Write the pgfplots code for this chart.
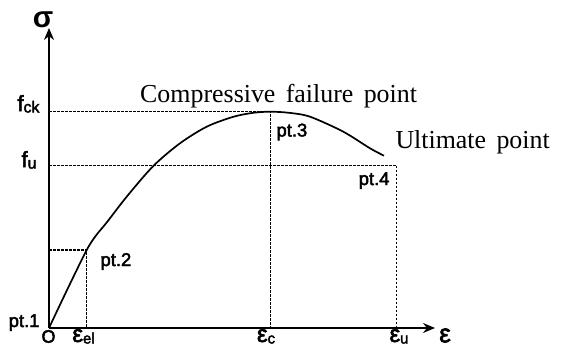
\documentclass[border=0pt]{standalone}
\usepackage{fontspec}
\setmainfont{Liberation Serif}
\newfontfamily\sans{Liberation Sans}
\newfontfamily\sansm{Liberation Sans}[FakeBold=2.5]
\usepackage{pgfplots}
\pgfplotsset{compat=1.18}
\usetikzlibrary{arrows.meta}

\pgfplotstableread{
x y
0 0
19 40
37.7 78
47 92.5
57.7 105.5
77.7 131.3
104.3 162
131 184.7
157.7 201.3
184.3 211.2
204.3 215.2
221.3 216.3
240 215.2
261 211.3
294.3 196.3
321 179.7
335 172.3
}\curvetable

\newcommand{\serifsize}{\fontsize{26}{30}\selectfont}
\newcommand{\ptsize}{\sansm\fontsize{18.5}{20}\selectfont}
\newcommand{\epsl}[1]{\sansm\fontsize{24}{26}\selectfont ε\raisebox{-1.5bp}{\fontsize{15}{17}\selectfont #1}}

\begin{document}
\begin{tikzpicture}
\begin{axis}[
  scale only axis, width=386bp, height=300bp,
  xmin=0, xmax=386, ymin=0, ymax=300,
  axis lines=left, ticks=none, clip=false,
  axis line style={line width=1.8bp, -{Stealth[length=12bp,width=10bp]}},
  dashline/.style={line width=1.1bp, dash pattern=on 2.5bp off 1.5bp},
  every node/.style={inner sep=0pt},
]
% guide lines
\addplot[dashline] coordinates {(0,216.3) (221.3,216.3) (221.3,0)};
\addplot[dashline] coordinates {(0,162.3) (347.7,162.3) (347.7,0)};
\addplot[dashline] coordinates {(0,78) (37.7,78) (37.7,0)};
% stress-strain curve
\addplot[line width=1.7bp, smooth, tension=0.5] table {\curvetable};

% axis symbols
\node at (axis cs:-6,308.5) {\sans\bfseries\fontsize{30}{32}\selectfont σ};
\node at (axis cs:396,-7.5) {\sansm\fontsize{26}{28}\selectfont ε};
\node at (axis cs:-0.5,-8.5) {\sansm\fontsize{18}{20}\selectfont O};

% y labels
\node[anchor=base east] at (axis cs:-6,217) {\sansm\fontsize{22}{24}\selectfont f\raisebox{-1.5bp}{\fontsize{16}{18}\selectfont ck}};
\node[anchor=base east] at (axis cs:-9,161) {\sansm\fontsize{22}{24}\selectfont f\raisebox{-1.5bp}{\fontsize{16}{18}\selectfont u}};

% x labels
\node[anchor=base] at (axis cs:34.5,-14) {\epsl{el}};
\node[anchor=base] at (axis cs:217,-14) {\epsl{c}};
\node[anchor=base] at (axis cs:350,-14) {\epsl{u}};

% point labels
\node[anchor=base east] at (axis cs:-6,1) {\ptsize pt.1};
\node[anchor=base west] at (axis cs:48,62) {\ptsize pt.2};
\node[anchor=base west] at (axis cs:224,191.5) {\ptsize pt.3};
\node[anchor=base east] at (axis cs:344,143) {\ptsize pt.4};

% annotations
\node[anchor=base west] at (axis cs:87.7,226) {\serifsize Compressive\hspace{0.4em}failure\hspace{0.4em}point};
\node[anchor=base west] at (axis cs:343,180) {\serifsize Ultimate\hspace{0.4em}point};

\coordinate (bbsw) at (axis cs:-49,-19);
\coordinate (bbne) at (axis cs:512,328);
\end{axis}
\pgfresetboundingbox
\useasboundingbox (bbsw) rectangle (bbne);
\end{tikzpicture}
\end{document}
